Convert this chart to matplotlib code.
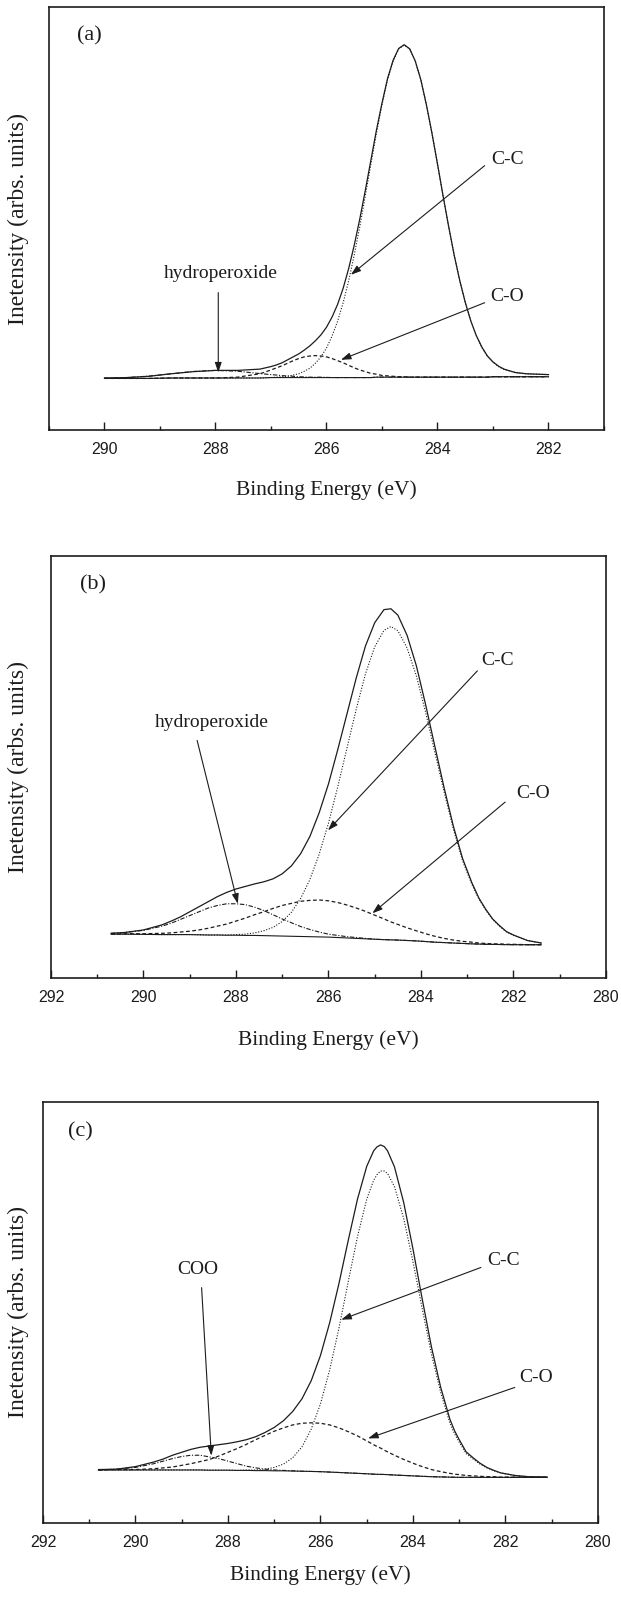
import matplotlib
matplotlib.use("Agg")
import matplotlib.pyplot as plt
from matplotlib.ticker import MultipleLocator

# ---- C 1s spectra, three samples (intensity in arb. units, 0-100 frame) ----

# (a)
energy_a = [290.0, 289.6, 289.2, 288.8, 288.4, 288.0, 287.6, 287.2, 287.0, 286.9,
            286.8, 286.7, 286.6, 286.5, 286.4, 286.3, 286.2, 286.1, 286.0, 285.9,
            285.8, 285.7, 285.6, 285.5, 285.4, 285.3, 285.2, 285.1, 285.0, 284.9,
            284.8, 284.7, 284.6, 284.5, 284.4, 284.3, 284.2, 284.1, 284.0, 283.9,
            283.8, 283.7, 283.6, 283.5, 283.4, 283.3, 283.2, 283.1, 283.0, 282.9,
            282.8, 282.6, 282.4, 282.2, 282.0]
background_a = [12.2, 12.2, 12.2, 12.3, 12.3, 12.3, 12.3, 12.3, 12.4, 12.4,
                12.4, 12.4, 12.4, 12.4, 12.4, 12.4, 12.4, 12.4, 12.4, 12.4,
                12.4, 12.4, 12.4, 12.4, 12.4, 12.4, 12.4, 12.5, 12.5, 12.5,
                12.5, 12.5, 12.5, 12.5, 12.5, 12.5, 12.5, 12.5, 12.5, 12.5,
                12.5, 12.5, 12.5, 12.5, 12.5, 12.5, 12.5, 12.5, 12.6, 12.6,
                12.6, 12.6, 12.6, 12.6, 12.6]
envelope_a = [12.3, 12.4, 12.7, 13.3, 13.8, 14.1, 14.1, 14.4, 15.0, 15.4,
              15.9, 16.6, 17.3, 18.0, 18.9, 19.9, 21.1, 22.5, 24.3, 26.7,
              29.7, 33.5, 38.2, 43.7, 49.9, 56.7, 63.8, 70.9, 77.3, 83.1,
              87.4, 90.2, 91.1, 90.1, 87.2, 82.8, 76.9, 70.2, 62.9, 55.4,
              48.2, 41.4, 35.4, 30.2, 25.8, 22.3, 19.6, 17.5, 16.1, 15.1,
              14.4, 13.6, 13.3, 13.2, 13.1]
cc_a = [12.2, 12.2, 12.2, 12.3, 12.3, 12.3, 12.3, 12.3, 12.4, 12.5,
        12.6, 12.7, 13.0, 13.3, 13.9, 14.6, 15.8, 17.3, 19.4, 22.2,
        25.7, 30.1, 35.3, 41.4, 48.1, 55.4, 62.8, 70.2, 76.9, 82.8,
        87.2, 90.1, 91.0, 90.1, 87.2, 82.8, 76.9, 70.2, 62.9, 55.4,
        48.2, 41.4, 35.4, 30.2, 25.8, 22.3, 19.5, 17.4, 16.0, 15.0,
        14.3, 13.6, 13.3, 13.2, 13.1]
co_a = [12.2, 12.2, 12.2, 12.3, 12.3, 12.3, 12.5, 13.3, 14.2, 14.7,
        15.2, 15.8, 16.4, 16.9, 17.3, 17.5, 17.6, 17.5, 17.3, 16.9,
        16.4, 15.9, 15.3, 14.7, 14.2, 13.8, 13.4, 13.2, 12.9, 12.8,
        12.7, 12.6, 12.6, 12.5, 12.5, 12.5, 12.5, 12.5, 12.5, 12.5,
        12.5, 12.5, 12.5, 12.5, 12.5, 12.5, 12.5, 12.5, 12.6, 12.6,
        12.6, 12.6, 12.6, 12.6, 12.6]
hydro_a = [12.25, 12.4, 12.75, 13.3, 13.85, 14.1, 13.9, 13.35, 13.1, 13.0,
           12.85, 12.8, 12.7, 12.6, 12.55, 12.5, 12.5, 12.5, 12.45, 12.4,
           12.4, 12.4, 12.4, 12.4, 12.4, 12.4, 12.4, 12.5, 12.5, 12.5,
           12.5, 12.5, 12.5, 12.5, 12.5, 12.5, 12.5, 12.5, 12.5, 12.5,
           12.5, 12.5, 12.5, 12.5, 12.5, 12.5, 12.5, 12.5, 12.6, 12.6,
           12.6, 12.6, 12.6, 12.6, 12.6]

# (b)
energy_b = [290.7, 290.4, 290.0, 289.6, 289.4, 289.2, 289.0, 288.8, 288.6, 288.4,
            288.2, 288.0, 287.8, 287.6, 287.4, 287.2, 287.0, 286.8, 286.6, 286.4,
            286.2, 286.0, 285.8, 285.6, 285.4, 285.2, 285.0, 284.8, 284.65, 284.5,
            284.3, 284.1, 283.9, 283.7, 283.5, 283.3, 283.1, 282.9, 282.75, 282.6,
            282.45, 282.3, 282.15, 282.0, 281.7, 281.4]
background_b = [10.4, 10.4, 10.35, 10.3, 10.3, 10.3, 10.3, 10.25, 10.2, 10.2,
                10.15, 10.15, 10.1, 10.1, 10.05, 10.0, 9.95, 9.9, 9.85, 9.8,
                9.75, 9.7, 9.6, 9.5, 9.4, 9.3, 9.2, 9.1, 9.05, 9.0,
                8.9, 8.8, 8.65, 8.5, 8.4, 8.3, 8.2, 8.1, 8.05, 8.0,
                7.97, 7.95, 7.92, 7.9, 7.9, 7.9]
envelope_b = [10.6, 10.8, 11.4, 12.6, 13.5, 14.5, 15.7, 16.9, 18.1, 19.3,
              20.3, 21.1, 21.7, 22.3, 22.8, 23.5, 24.7, 26.6, 29.5, 33.6,
              39.2, 46.0, 54.1, 62.6, 71.1, 78.7, 84.2, 87.3, 87.5, 86.0,
              81.2, 74.0, 64.8, 54.9, 45.1, 36.0, 28.3, 22.6, 19.0, 16.3,
              14.0, 12.4, 11.0, 10.2, 8.9, 8.3]
cc_b = [10.4, 10.4, 10.35, 10.3, 10.3, 10.3, 10.3, 10.25, 10.2, 10.2,
        10.2, 10.3, 10.4, 10.7, 11.2, 12.0, 13.4, 15.6, 18.9, 23.4,
        29.4, 36.7, 45.3, 54.5, 63.7, 72.1, 78.5, 82.4, 83.3, 82.3,
        78.2, 71.6, 63.0, 53.5, 44.1, 35.3, 27.8, 22.2, 18.8, 16.1,
        13.9, 12.25, 10.9, 10.1, 8.9, 8.3]
co_b = [10.4, 10.5, 10.5, 10.6, 10.7, 10.9, 11.1, 11.4, 11.8, 12.3,
        12.8, 13.5, 14.2, 15.0, 15.7, 16.5, 17.2, 17.7, 18.2, 18.4,
        18.5, 18.3, 17.9, 17.3, 16.6, 15.8, 14.9, 14.0, 13.3, 12.7,
        11.9, 11.2, 10.5, 9.9, 9.4, 9.0, 8.7, 8.5, 8.3, 8.2,
        8.1, 8.1, 8.0, 8.0, 7.9, 7.9]
hydro_b = [10.6, 10.8, 11.3, 12.3, 13.0, 13.9, 14.8, 15.7, 16.6, 17.2,
           17.6, 17.6, 17.4, 16.8, 16.0, 15.0, 14.0, 13.1, 12.2, 11.5,
           10.9, 10.4, 10.1, 9.8, 9.6, 9.4, 9.2, 9.1, 9.05, 9.0,
           8.9, 8.8, 8.65, 8.5, 8.4, 8.3, 8.2, 8.1, 8.05, 8.0,
           7.97, 7.95, 7.92, 7.9, 7.9, 7.9]

# (c)
energy_c = [290.8, 290.4, 290.0, 289.6, 289.4, 289.2, 289.0, 288.8, 288.6, 288.4,
            288.2, 288.0, 287.8, 287.6, 287.4, 287.2, 287.0, 286.8, 286.6, 286.4,
            286.2, 286.0, 285.8, 285.6, 285.4, 285.2, 285.0, 284.85, 284.78, 284.7,
            284.62, 284.55, 284.4, 284.2, 284.0, 283.8, 283.6, 283.4, 283.2, 283.1,
            283.0, 282.85, 282.7, 282.55, 282.4, 282.25, 282.1, 281.95, 281.8, 281.5,
            281.1]
background_c = [12.6, 12.6, 12.6, 12.6, 12.6, 12.6, 12.6, 12.6, 12.6, 12.55,
                12.55, 12.55, 12.5, 12.5, 12.45, 12.45, 12.4, 12.4, 12.35, 12.3,
                12.25, 12.2, 12.1, 12.0, 11.9, 11.8, 11.7, 11.6, 11.57, 11.55,
                11.53, 11.5, 11.4, 11.3, 11.2, 11.1, 11.0, 10.95, 10.9, 10.87,
                10.85, 10.85, 10.85, 10.85, 10.85, 10.85, 10.85, 10.85, 10.85, 10.85,
                10.85]
envelope_c = [12.7, 12.8, 13.4, 14.5, 15.2, 16.1, 16.8, 17.5, 18.0, 18.3,
              18.6, 18.9, 19.3, 19.8, 20.5, 21.5, 22.7, 24.3, 26.5, 29.5,
              33.8, 39.8, 47.6, 56.9, 67.1, 76.9, 84.7, 88.4, 89.3, 89.8,
              89.4, 88.4, 84.6, 76.1, 65.1, 53.2, 41.8, 32.2, 24.6, 21.9,
              19.8, 16.9, 15.5, 14.2, 13.2, 12.5, 11.9, 11.6, 11.3, 11.0,
              10.9]
cc_c = [12.6, 12.6, 12.6, 12.6, 12.6, 12.6, 12.6, 12.6, 12.6, 12.55,
        12.55, 12.55, 12.5, 12.6, 12.6, 12.8, 13.2, 14.0, 15.5, 18.1,
        22.3, 28.3, 36.4, 46.3, 57.3, 68.0, 76.9, 81.4, 82.7, 83.6,
        83.6, 83.0, 79.9, 72.3, 62.1, 50.9, 40.1, 31.0, 23.7, 21.2,
        19.2, 16.5, 15.2, 14.0, 13.1, 12.4, 11.9, 11.6, 11.3, 11.0,
        10.9]
co_c = [12.6, 12.7, 12.7, 12.9, 13.1, 13.3, 13.7, 14.1, 14.6, 15.1,
        15.9, 16.8, 17.7, 18.7, 19.8, 20.8, 21.8, 22.6, 23.3, 23.7,
        23.8, 23.7, 23.3, 22.6, 21.7, 20.7, 19.5, 18.6, 18.2, 17.8,
        17.3, 16.9, 16.1, 15.1, 14.2, 13.4, 12.7, 12.2, 11.8, 11.6,
        11.5, 11.3, 11.2, 11.1, 11.0, 11.0, 10.9, 10.9, 10.9, 10.9,
        10.9]
coo_c = [12.6, 12.8, 13.2, 14.1, 14.7, 15.3, 15.8, 16.1, 16.1, 15.7,
         15.3, 14.7, 14.1, 13.5, 13.1, 12.8, 12.6, 12.5, 12.4, 12.3,
         12.25, 12.2, 12.1, 12.0, 11.9, 11.8, 11.7, 11.6, 11.57, 11.55,
         11.53, 11.5, 11.4, 11.3, 11.2, 11.1, 11.0, 10.95, 10.9, 10.87,
         10.85, 10.85, 10.85, 10.85, 10.85, 10.85, 10.85, 10.85, 10.85, 10.85,
         10.85]

SERIF = ["Liberation Serif", "DejaVu Serif"]
INK = "#1c1c1c"

plt.rcParams["font.family"] = ["Liberation Sans", "DejaVu Sans"]


def draw_panel(ax, energy, bg, env, cc, co, third, xlim, tag, tagpos, xlab_y, ylab_x):
    ax.plot(energy, bg, color=INK, lw=0.8)
    ax.plot(energy, third, color=INK, lw=0.8, ls=(0, (4, 1.5, 1, 1.5)))
    ax.plot(energy, co, color=INK, lw=0.9, ls=(0, (3, 2)))
    ax.plot(energy, cc, color=INK, lw=0.8, ls=(0, (1, 1.5)))
    ax.plot(energy, env, color=INK, lw=0.9)

    ax.set_xlim(*xlim)
    ax.set_ylim(0, 100)
    ax.set_yticks([])
    ax.xaxis.set_major_locator(MultipleLocator(2))
    ax.xaxis.set_minor_locator(MultipleLocator(1))
    ax.ticklabel_format(axis="x", useOffset=False)
    ax.tick_params(axis="x", which="major", direction="in", length=6, width=1.0,
                   pad=8.5, labelsize=11.5, color=INK, labelcolor=INK)
    ax.tick_params(axis="x", which="minor", direction="in", length=3, width=1.0, color=INK)
    for sp in ax.spines.values():
        sp.set_linewidth(1.2)
        sp.set_color(INK)

    ax.set_xlabel("Binding Energy (eV)", fontsize=15.5, family=SERIF, color=INK)
    ax.xaxis.label.set_va("center")
    ax.xaxis.set_label_coords(0.5, xlab_y)
    ax.set_ylabel("Inetensity (arbs. units)", fontsize=17, family=SERIF, color=INK)
    ax.yaxis.label.set_va("center")
    ax.yaxis.set_label_coords(ylab_x, 0.5)

    ax.text(tagpos[0], tagpos[1], tag, transform=ax.transAxes, ha="center", va="center",
            fontsize=16, family=SERIF, color=INK)


def label_peak(ax, text, text_xy, tail, tip):
    ax.text(text_xy[0], text_xy[1], text, ha="center", va="center",
            fontsize=14, family=SERIF, color=INK)
    ax.annotate("", xy=tip, xytext=tail,
                arrowprops=dict(arrowstyle="-|>,head_length=0.5,head_width=0.17",
                                mutation_scale=12, lw=0.8, color=INK,
                                shrinkA=0, shrinkB=0))


fig = plt.figure(figsize=(6.21, 16.01), dpi=100)

ax1 = fig.add_axes([0.0789, 0.7314, 0.8937, 0.2642])
draw_panel(ax1, energy_a, background_a, envelope_a, cc_a, co_a, hydro_a,
           (291, 281), "(a)", (0.073, 0.931), -0.142, -0.056)
label_peak(ax1, "C-C", (282.74, 63.9), (283.15, 62.5), (285.56, 36.7))
label_peak(ax1, "C-O", (282.74, 31.5), (283.15, 30.1), (285.74, 16.6))
label_peak(ax1, "hydroperoxide", (287.9, 37.1), (287.95, 32.5), (287.95, 13.6))

ax2 = fig.add_axes([0.0821, 0.3891, 0.8937, 0.2636])
draw_panel(ax2, energy_b, background_b, envelope_b, cc_b, co_b, hydro_b,
           (292, 280), "(b)", (0.075, 0.931), -0.147, -0.0595)
label_peak(ax2, "C-C", (282.35, 75.2), (282.78, 72.8), (286.01, 35.0))
label_peak(ax2, "C-O", (281.58, 43.7), (282.18, 41.7), (285.05, 15.35))
label_peak(ax2, "hydroperoxide", (288.52, 60.6), (288.84, 56.3), (287.96, 17.6))

ax3 = fig.add_axes([0.0692, 0.0487, 0.8937, 0.2630])
draw_panel(ax3, energy_c, background_c, envelope_c, cc_c, co_c, coo_c,
           (292, 280), "(c)", (0.067, 0.929), -0.1235, -0.045)
label_peak(ax3, "C-C", (282.04, 62.3), (282.53, 60.7), (285.55, 48.3))
label_peak(ax3, "C-O", (281.33, 34.6), (281.8, 32.2), (284.97, 20.1))
label_peak(ax3, "COO", (288.66, 60.3), (288.57, 55.9), (288.36, 16.0))

fig.savefig("out.png", dpi=100)
